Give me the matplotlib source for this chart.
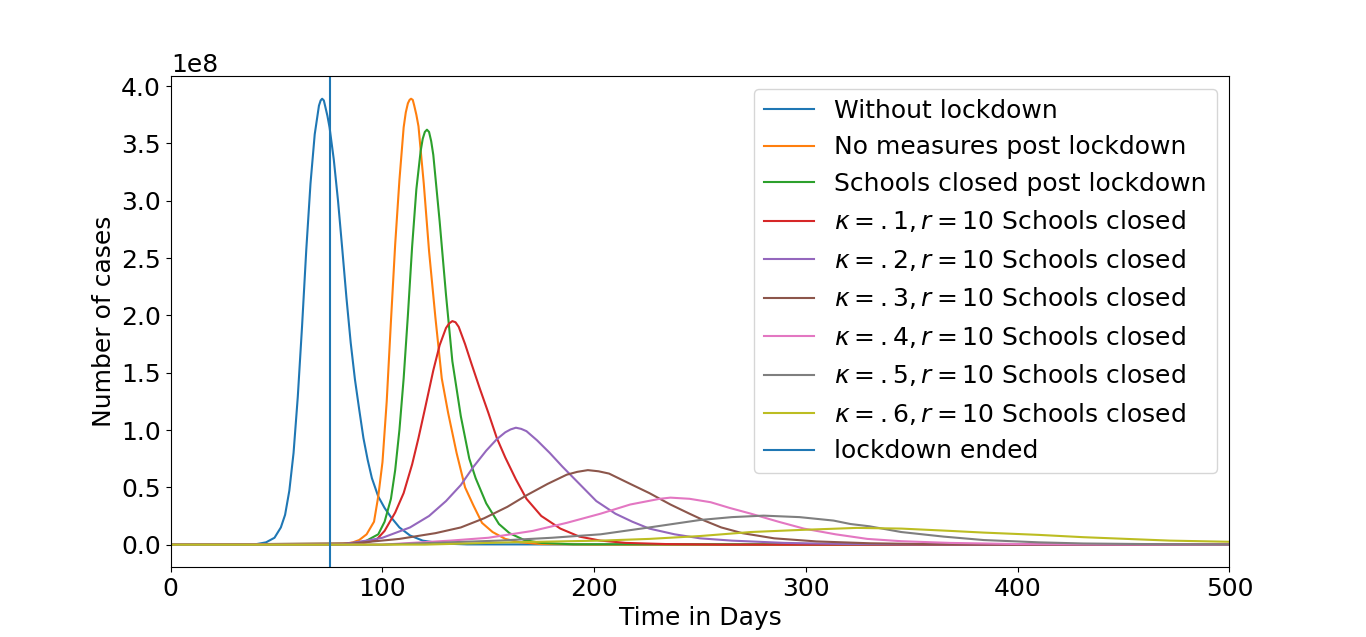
import matplotlib
matplotlib.use("Agg")
import matplotlib.pyplot as plt

# values, cases in units of 1e8
lockdown_end = 75

blue_days = [0, 40, 45, 49, 52, 54, 56, 58, 60, 62, 64, 66, 68, 70, 70.8, 71.5, 72.3, 73, 74, 75, 77, 79, 81,
             83, 85, 87, 89, 91, 93, 95, 98, 101, 104, 108, 113, 119, 128, 140, 500]
blue_vals = [0, 0.003, 0.02, 0.06, 0.15, 0.26, 0.47, 0.80, 1.29, 1.90, 2.57, 3.15, 3.58, 3.83, 3.875, 3.89,
             3.875, 3.82, 3.74, 3.64, 3.36, 3.00, 2.58, 2.15, 1.76, 1.44, 1.18, 0.93, 0.74, 0.58, 0.42, 0.32,
             0.24, 0.15, 0.08, 0.035, 0.01, 0.002, 0]

orange_days = [0, 80, 86, 89, 92.5, 96, 98, 100, 102, 104, 106, 108, 110, 111, 112, 112.8, 113.5, 114.3, 115,
               116, 117, 119.5, 122, 125, 128, 131, 135, 139, 143, 147, 152, 158, 165, 175, 200, 500]
orange_vals = [0, 0, 0.02, 0.04, 0.09, 0.20, 0.42, 0.72, 1.25, 1.95, 2.62, 3.18, 3.64, 3.77, 3.85, 3.88,
               3.89, 3.88, 3.83, 3.75, 3.65, 3.15, 2.56, 1.98, 1.45, 1.15, 0.80, 0.50, 0.34, 0.19, 0.11,
               0.05, 0.02, 0.005, 0, 0]

green_days = [0, 85, 92, 98, 101, 104, 106, 108, 110, 112, 114, 116, 118, 119, 120, 121, 122, 123, 124, 127,
              130, 133, 137, 141, 144, 149, 155, 160, 167, 175, 190, 500]
green_vals = [0, 0.01, 0.03, 0.09, 0.20, 0.40, 0.65, 1.00, 1.45, 2.00, 2.60, 3.10, 3.43, 3.54, 3.60, 3.62,
              3.60, 3.52, 3.40, 2.82, 2.18, 1.60, 1.12, 0.75, 0.58, 0.36, 0.18, 0.10, 0.04, 0.015, 0.003, 0]

red_days = [0, 90, 97, 101, 106, 110, 114, 117, 120, 124, 127, 130, 131.5, 133, 134.5, 136, 139, 142, 146,
            150, 154, 158, 163, 168, 175, 184, 193, 203, 215, 234, 260, 500]
red_vals = [0, 0.01, 0.04, 0.12, 0.28, 0.45, 0.70, 0.93, 1.18, 1.52, 1.74, 1.89, 1.93, 1.95, 1.94, 1.90,
            1.75, 1.58, 1.36, 1.15, 0.93, 0.76, 0.57, 0.40, 0.25, 0.14, 0.07, 0.035, 0.015, 0.005, 0, 0]

purple_days = [0, 80, 92.5, 100, 113, 122, 130, 137, 143, 149, 154, 158, 160.5, 163, 165.5, 168, 173, 179,
               185, 193, 201, 210, 218, 226, 238, 250, 265, 290, 320, 350, 500]
purple_vals = [0, 0, 0.035, 0.06, 0.15, 0.25, 0.38, 0.52, 0.68, 0.82, 0.92, 0.98, 1.005, 1.02, 1.01, 0.99,
               0.91, 0.80, 0.68, 0.53, 0.38, 0.27, 0.20, 0.14, 0.09, 0.055, 0.035, 0.015, 0.005, 0.002, 0]

brown_days = [0, 80, 108, 125, 137, 148, 159, 168, 178, 187, 192, 197, 202, 207, 217, 226, 236, 245, 252,
              260, 270, 285, 305, 330, 360, 400, 500]
brown_vals = [0, 0, 0.05, 0.10, 0.15, 0.23, 0.33, 0.43, 0.53, 0.61, 0.635, 0.65, 0.64, 0.62, 0.53, 0.45,
              0.35, 0.27, 0.21, 0.15, 0.10, 0.055, 0.028, 0.012, 0.004, 0.001, 0]

pink_days = [0, 100, 132, 150, 171, 187, 203, 217, 231, 236, 245, 255, 264, 274, 287, 299, 314, 329, 345,
             368, 400, 431, 500]
pink_vals = [0, 0, 0.035, 0.06, 0.12, 0.19, 0.27, 0.35, 0.40, 0.41, 0.40, 0.37, 0.32, 0.27, 0.20, 0.14,
             0.09, 0.05, 0.03, 0.015, 0.005, 0.002, 0]

gray_days = [0, 100, 155, 180, 203, 226, 250, 265, 280, 297, 313, 321, 330, 345, 365, 384, 410, 431, 472, 500]
gray_vals = [0, 0, 0.035, 0.06, 0.09, 0.15, 0.215, 0.24, 0.253, 0.24, 0.21, 0.18, 0.16, 0.11, 0.07, 0.04,
             0.02, 0.01, 0.003, 0.001]

olive_days = [0, 120, 160, 203, 226, 250, 274, 297, 324, 345, 368, 384, 410, 431, 472, 500]
olive_vals = [0, 0, 0.02, 0.035, 0.05, 0.075, 0.11, 0.128, 0.146, 0.14, 0.12, 0.105, 0.085, 0.065, 0.035, 0.025]

series = [
    (blue_days, blue_vals, "Without lockdown"),
    (orange_days, orange_vals, "No measures post lockdown"),
    (green_days, green_vals, "Schools closed post lockdown"),
    (red_days, red_vals, r"$\kappa=.1, r=10$ Schools closed"),
    (purple_days, purple_vals, r"$\kappa=.2, r=10$ Schools closed"),
    (brown_days, brown_vals, r"$\kappa=.3, r=10$ Schools closed"),
    (pink_days, pink_vals, r"$\kappa=.4, r=10$ Schools closed"),
    (gray_days, gray_vals, r"$\kappa=.5, r=10$ Schools closed"),
    (olive_days, olive_vals, r"$\kappa=.6, r=10$ Schools closed"),
]

plt.rcParams["font.size"] = 18

fig, ax = plt.subplots(figsize=(13.66, 6.37), dpi=100)
for days, vals, label in series:
    ax.plot(days, [v * 1e8 for v in vals], label=label)
ax.axvline(lockdown_end, label="lockdown ended")

ax.set_xlim([0, 500])
ax.set_xlabel("Time in Days")
ax.set_ylabel("Number of cases")
ax.legend(loc="upper right")

fig.savefig("out.png", dpi=100)
